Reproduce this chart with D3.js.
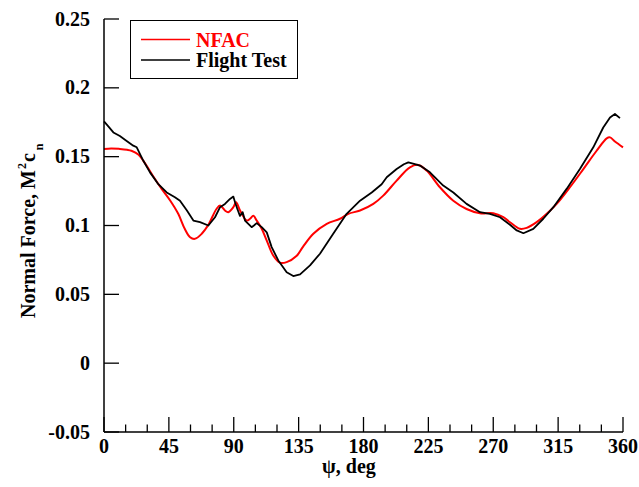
<!DOCTYPE html>
<html>
<head>
<meta charset="utf-8">
<script src="https://cdn.jsdelivr.net/npm/d3@7"></script>
<style>
  html, body { margin: 0; padding: 0; background: #fff; }
  svg { display: block; }
  text { font-family: "Liberation Serif", "Times New Roman", serif; font-weight: bold; }
</style>
</head>
<body>
<svg id="chart" width="639" height="487"></svg>
<script>
// ---- data ----
const psiNFAC = [0, 5, 11, 16, 19, 24, 27.3, 31, 34, 40, 46, 51.5, 56, 59.7, 63, 67.8, 72.4, 78, 80.5, 83.9, 86.2, 89.7, 91.6, 94.3, 99, 101.3, 103.6, 105.9, 109.4, 112.9, 117.5, 122, 126.7, 133.7, 138, 145.2, 154.5, 163.7, 169.5, 177.6, 186.8, 193.7, 203, 212.2, 218, 223.8, 233, 242.3, 251.5, 260.8, 270, 277, 281.6, 288.5, 293.2, 300.1, 307.1, 314, 323.2, 332.5, 341.7, 348.7, 351, 354.4, 360];
const nfac = [0.1556, 0.156, 0.1556, 0.155, 0.1543, 0.1514, 0.147, 0.141, 0.136, 0.1266, 0.118, 0.1085, 0.0976, 0.0915, 0.0903, 0.094, 0.1005, 0.112, 0.1145, 0.1109, 0.1097, 0.1133, 0.1169, 0.111, 0.1036, 0.1049, 0.107, 0.1036, 0.0976, 0.089, 0.078, 0.073, 0.0734, 0.078, 0.0845, 0.094, 0.1012, 0.1049, 0.1085, 0.1109, 0.1157, 0.1217, 0.1326, 0.1423, 0.144, 0.1399, 0.1278, 0.118, 0.112, 0.1089, 0.1089, 0.106, 0.1024, 0.0976, 0.0983, 0.1024, 0.1085, 0.1157, 0.1278, 0.141, 0.1543, 0.1633, 0.164, 0.161, 0.1568];

const psiFlight = [0, 3, 6.5, 11, 15, 20.3, 22.7, 27.3, 31.9, 37.7, 43.5, 49.2, 52.7, 57.4, 62, 66.6, 72.4, 77, 80.5, 83.9, 87.4, 89.7, 90.9, 92.5, 94.3, 96.2, 97.8, 100.1, 102.4, 104, 105.9, 109.4, 112.9, 116.3, 120.9, 126.7, 131.3, 136, 142.9, 149.8, 159, 168.3, 177.6, 185.7, 192.6, 196.1, 203, 208, 211.1, 215, 219.2, 226.1, 235.3, 242.3, 251.5, 260.8, 267.7, 274.7, 281.6, 286.3, 290.9, 297.8, 304.7, 311.7, 320.9, 330.1, 339.4, 346.3, 351, 354.4, 357.9];
const flight = [0.1756, 0.172, 0.1676, 0.165, 0.162, 0.158, 0.1568, 0.147, 0.1386, 0.130, 0.124, 0.1205, 0.118, 0.111, 0.1036, 0.1024, 0.100, 0.106, 0.1133, 0.1157, 0.1193, 0.121, 0.1169, 0.112, 0.107, 0.1097, 0.1036, 0.1012, 0.0988, 0.100, 0.1017, 0.0988, 0.095, 0.0843, 0.0746, 0.066, 0.0633, 0.0645, 0.071, 0.0795, 0.094, 0.1085, 0.118, 0.124, 0.130, 0.135, 0.141, 0.1445, 0.1459, 0.1447, 0.1435, 0.1386, 0.129, 0.124, 0.1157, 0.1097, 0.1085, 0.106, 0.1005, 0.0964, 0.0944, 0.0976, 0.1049, 0.1133, 0.1266, 0.141, 0.1568, 0.1712, 0.1785, 0.181, 0.178];

const xTicks = [0, 45, 90, 135, 180, 225, 270, 315, 360];
const xMinorTicks = d3.range(0, 361, 15);
const yTicks = [-0.05, 0, 0.05, 0.1, 0.15, 0.2, 0.25];
const yTickLabels = ["-0.05", "0", "0.05", "0.1", "0.15", "0.2", "0.25"];
const seriesNames = ["NFAC", "Flight Test"];
const seriesColors = ["#ff0000", "#000000"];

// ---- layout ----
const svg = d3.select("#chart");
const x = d3.scaleLinear().domain([0, 360]).range([104, 623]);
const y = d3.scaleLinear().domain([-0.05, 0.25]).range([432, 19]);
const FS = 20;

// curves
const lineSmooth = d3.line().x(d => x(d[0])).y(d => y(d[1])).curve(d3.curveCatmullRom.alpha(0.5));
const lineJag = d3.line().x(d => x(d[0])).y(d => y(d[1])).curve(d3.curveLinear);

svg.append("path")
  .datum(psiNFAC.map((p, i) => [p, nfac[i]]))
  .attr("d", lineSmooth).attr("fill", "none")
  .attr("stroke", seriesColors[0]).attr("stroke-width", 2);

svg.append("path")
  .datum(psiFlight.map((p, i) => [p, flight[i]]))
  .attr("d", lineJag).attr("fill", "none")
  .attr("stroke", seriesColors[1]).attr("stroke-width", 1.8)
  .attr("stroke-linejoin", "round");

// x axis
const gx = svg.append("g").attr("transform", `translate(0,${y(-0.05)})`);
gx.append("line").attr("x1", x(0)).attr("x2", x(360)).attr("stroke", "#000").attr("stroke-width", 1.5);
gx.selectAll(".minor").data(xMinorTicks.filter(t => t % 45 !== 0)).enter().append("line")
  .attr("x1", d => x(d)).attr("x2", d => x(d)).attr("y1", 0).attr("y2", -7.5)
  .attr("stroke", "#000").attr("stroke-width", 1.3);
gx.selectAll(".major").data(xTicks).enter().append("line")
  .attr("x1", d => x(d)).attr("x2", d => x(d)).attr("y1", 0).attr("y2", -15)
  .attr("stroke", "#000").attr("stroke-width", 1.3);
gx.selectAll("text").data(xTicks).enter().append("text")
  .attr("x", d => x(d)).attr("y", 21).attr("text-anchor", "middle")
  .attr("font-size", FS).text(d => d);

// y axis
const gy = svg.append("g").attr("transform", `translate(${x(0)},0)`);
gy.append("line").attr("y1", y(-0.05)).attr("y2", y(0.25)).attr("stroke", "#000").attr("stroke-width", 1.5);
gy.selectAll(".major").data(yTicks).enter().append("line")
  .attr("y1", d => y(d)).attr("y2", d => y(d)).attr("x1", 0).attr("x2", 15)
  .attr("stroke", "#000").attr("stroke-width", 1.3);
gy.selectAll("text").data(yTicks).enter().append("text")
  .attr("x", -14).attr("y", d => y(d) + 6.5).attr("text-anchor", "end")
  .attr("font-size", FS).text((d, i) => yTickLabels[i]);

// axis titles
svg.append("text").attr("x", 349).attr("y", 473).attr("text-anchor", "middle")
  .attr("font-size", FS).text("ψ, deg");

const yt = svg.append("text").attr("transform", "translate(35,318) rotate(-90)")
  .attr("text-anchor", "start").attr("font-size", FS);
yt.append("tspan").text("Normal Force, M");
yt.append("tspan").attr("font-size", 12).attr("dy", -9).attr("dx", 1).text("2");
yt.append("tspan").attr("dy", 9).attr("dx", 1).text("c");
yt.append("tspan").attr("font-size", 12).attr("dy", 8).attr("dx", 3).text("n");

// legend
const lg = svg.append("g");
lg.append("rect").attr("x", 130.5).attr("y", 20.5).attr("width", 167).attr("height", 58)
  .attr("fill", "#fff").attr("stroke", "#000").attr("stroke-width", 1);
seriesNames.forEach((name, i) => {
  const ly = 39.5 + i * 20.5;
  lg.append("line").attr("x1", 141).attr("x2", 190).attr("y1", ly).attr("y2", ly)
    .attr("stroke", seriesColors[i]).attr("stroke-width", 1.5);
  lg.append("text").attr("x", 196).attr("y", ly + 7).attr("font-size", FS)
    .attr("fill", seriesColors[i]).text(name);
});
</script>
</body>
</html>
